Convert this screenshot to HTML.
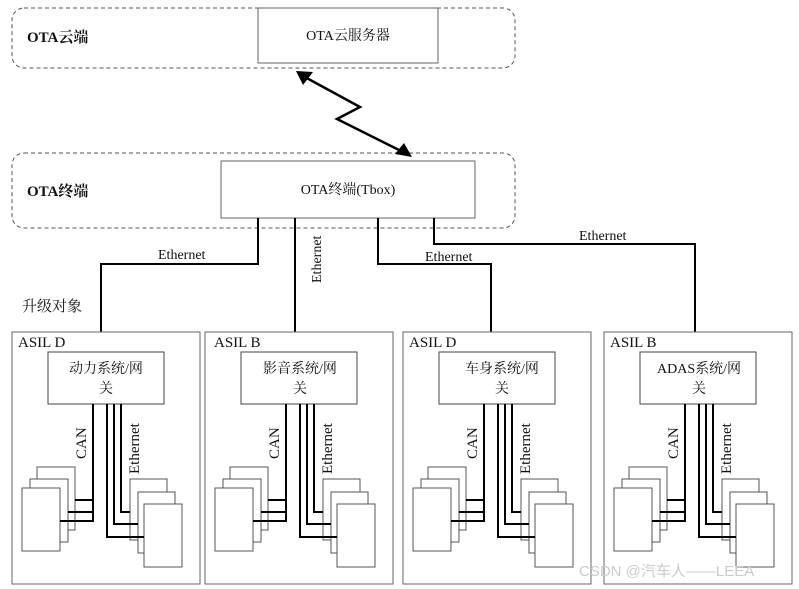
<!DOCTYPE html>
<html><head><meta charset="utf-8"><style>body{margin:0;background:#fff}svg{display:block}text{font-family:"Liberation Serif","Noto Serif CJK SC",serif;fill:#111}</style></head><body>
<svg width="799" height="589" viewBox="0 0 799 589" xmlns="http://www.w3.org/2000/svg">
<defs>
<g id="blk">
<rect x="0" y="0" width="188" height="252" fill="none" stroke="#666" stroke-width="1"/>
<rect x="36" y="20" width="116" height="52" fill="#fff" stroke="#444" stroke-width="1"/>
<g fill="#fff" stroke="#555" stroke-width="1">
<rect x="25" y="135" width="38" height="63"/><rect x="18" y="147" width="38" height="63"/><rect x="10" y="156" width="38" height="63"/>
<rect x="118" y="147" width="37" height="61"/><rect x="126" y="160" width="37" height="61"/><rect x="132" y="172" width="38" height="63"/>
</g>
<g fill="none" stroke="#000" stroke-width="2">
<path d="M81 72V189H48M81 180H56M81 168H63"/>
<path d="M109 72V180H118M102 72V192H126M95 72V205H132"/>
</g>
<text transform="translate(74,127) rotate(-90)" font-size="15">CAN</text>
<text transform="translate(127,142) rotate(-90)" font-size="15">Ethernet</text>
</g>
</defs>
<rect x="12" y="8" width="503" height="60" rx="12" fill="none" stroke="#555" stroke-dasharray="4,3"/>
<rect x="258" y="8" width="180" height="55" fill="#fff" stroke="#666"/>
<text x="27" y="42" font-size="15" font-weight="bold">OTA云端</text>
<text x="348" y="40" font-size="14" text-anchor="middle">OTA云服务器</text>
<rect x="12" y="153" width="503" height="75" rx="12" fill="none" stroke="#555" stroke-dasharray="4,3"/>
<rect x="221" y="161" width="254" height="57" fill="#fff" stroke="#666"/>
<text x="27" y="196" font-size="15" font-weight="bold">OTA终端</text>
<text x="348" y="194" font-size="14" text-anchor="middle">OTA终端(Tbox)</text>
<path d="M303 76L360 107L337 119L403 152" fill="none" stroke="#000" stroke-width="2.5"/>
<path d="M296 71L313 72L303 85Z M412 157L395 154L404 143Z" fill="#000"/>
<g fill="none" stroke="#000" stroke-width="2">
<path d="M258 218V264H101V332"/><path d="M295 218V332"/><path d="M378 218V264H491V332"/><path d="M434 218V244H695V332"/>
</g>
<text x="158" y="259" font-size="14">Ethernet</text>
<text transform="translate(321,283) rotate(-90)" font-size="14">Ethernet</text>
<text x="425" y="261" font-size="14">Ethernet</text>
<text x="579" y="240" font-size="14">Ethernet</text>
<text x="22" y="311" font-size="15">升级对象</text>
<use href="#blk" x="12" y="332"/><use href="#blk" x="205" y="332"/><use href="#blk" x="403" y="332"/><use href="#blk" x="604" y="332"/>
<g font-size="15">
<text x="18" y="347">ASIL D</text><text x="214" y="347">ASIL B</text><text x="409" y="347">ASIL D</text><text x="610" y="347">ASIL B</text>
</g>
<g font-size="14" text-anchor="middle">
<text x="106" y="373">动力系统/网</text><text x="106" y="393">关</text>
<text x="300" y="373">影音系统/网</text><text x="300" y="393">关</text>
<text x="502" y="373">车身系统/网</text><text x="502" y="393">关</text>
<text x="699" y="373">ADAS系统/网</text><text x="699" y="393">关</text>
</g>
<text x="579" y="576" font-size="15" style="fill:#ccc;font-family:'Liberation Sans','Noto Sans CJK SC',sans-serif">CSDN @汽车人——LEEA</text>
</svg>
</body></html>
